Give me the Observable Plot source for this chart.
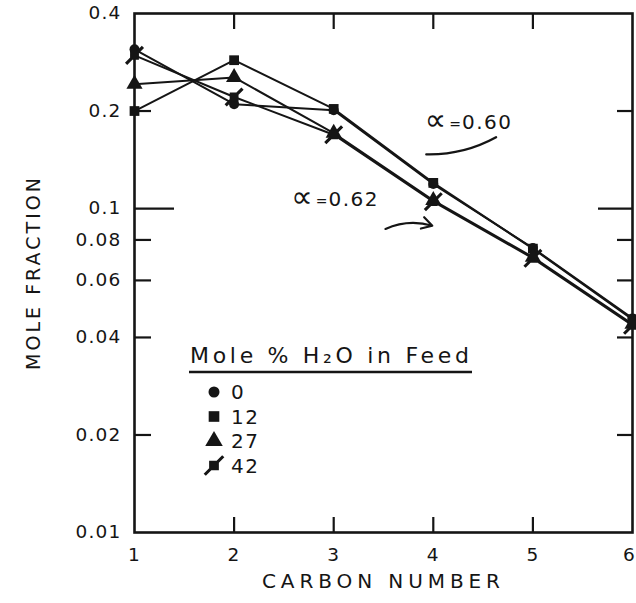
<!DOCTYPE html>
<html>
<head>
<meta charset="utf-8">
<script src="https://cdn.jsdelivr.net/npm/d3@7"></script>
<script src="https://cdn.jsdelivr.net/npm/@observablehq/plot@0.6"></script>
<style>
  body { margin: 0; background: #fff; }
  #chart { width: 636px; height: 603px; }
</style>
</head>
<body>
<div id="chart"></div>
<script>
// Data
const carbonNumber = [1, 2, 3, 4, 5, 6];
const feed0  = [0.310, 0.210, 0.201, 0.119, 0.0755, 0.0458];
const feed12 = [0.200, 0.287, 0.203, 0.120, 0.0752, 0.0455];
const feed27 = [0.242, 0.254, 0.171, 0.106, 0.0708, 0.0440];
const feed42 = [0.297, 0.221, 0.169, 0.105, 0.0702, 0.0436];
const seriesNames = ["0", "12", "27", "42"];
const yTickValues = [0.4, 0.2, 0.1, 0.08, 0.06, 0.04, 0.02, 0.01];
const xTickValues = [1, 2, 3, 4, 5, 6];
const legendTitle = "Mole % H\u2082O in Feed";
const annotationSymbol = "\u221D";
const annotationValues = ["0.60", "0.62"];

const seriesValues = [feed0, feed12, feed27, feed42];
const rows = seriesNames.flatMap((s, i) =>
  carbonNumber.map((c, j) => ({series: s, carbon: c, value: seriesValues[i][j]})));

// custom symbol: filled square with a diagonal slash
const slashSquare = {
  draw(ctx, size) {
    const s = Math.sqrt(size) / 2;
    ctx.moveTo(-s, -s); ctx.lineTo(s, -s); ctx.lineTo(s, s); ctx.lineTo(-s, s); ctx.closePath();
    const L = s * 1.9, w = 1.1;
    ctx.moveTo(-L - w, L - w); ctx.lineTo(L - w, -L - w); ctx.lineTo(L + w, -L + w); ctx.lineTo(-L + w, L + w); ctx.closePath();
  }
};
const symbols = {"0": "circle", "12": "square", "27": "triangle", "42": slashSquare};
const sizes = {"0": 5, "12": 5.5, "27": 6, "42": 5};

const ink = "#151515";
const font = "DejaVu Sans, sans-serif";

const svg = Plot.plot({
  width: 636,
  height: 603,
  marginLeft: 134,
  marginRight: 4,
  marginTop: 13,
  marginBottom: 71,
  style: {fontFamily: font, background: "#fff", color: ink, letterSpacing: "1.2px"},
  x: {domain: [1, 6]},
  y: {type: "log", domain: [0.01, 0.4]},
  marks: [
    // tick labels
    Plot.axisY(yTickValues, {anchor: "left", tickSize: 0, tickPadding: 13, fontSize: 18.5, tickFormat: d => String(d), label: null}),
    Plot.axisX(xTickValues, {anchor: "bottom", tickSize: 0, tickPadding: 15, fontSize: 18.5, tickFormat: d => String(d), label: null}),
    // inward ticks
    Plot.axisY([0.1], {anchor: "left", tickSize: -40, text: null, strokeWidth: 2.2, label: null}),
    Plot.axisY([0.2, 0.08, 0.06, 0.04, 0.02], {anchor: "left", tickSize: -17, text: null, strokeWidth: 2.2, label: null}),
    Plot.axisY([0.1], {anchor: "right", tickSize: -35, text: null, strokeWidth: 2.2, label: null}),
    Plot.axisY([0.2, 0.08, 0.06, 0.04, 0.02], {anchor: "right", tickSize: -16, text: null, strokeWidth: 2.2, label: null}),
    Plot.axisX([2, 3, 4, 5], {anchor: "bottom", tickSize: -15, text: null, strokeWidth: 2.2, label: null}),
    Plot.axisX([2, 3, 4, 5], {anchor: "top", tickSize: -15, text: null, strokeWidth: 2.2, label: null}),
    Plot.frame({stroke: ink, strokeWidth: 2.6}),
    // series lines
    Plot.line(rows, {x: "carbon", y: "value", z: "series", stroke: ink, strokeWidth: 2}),
    ...seriesNames.map(s => Plot.dot(rows.filter(d => d.series === s), {
      x: "carbon", y: "value", r: sizes[s], symbol: symbols[s], fill: ink, stroke: "none"
    })),
    // annotation pointers
    Plot.arrow([0], {x1: 3.93, y1: 0.147, x2: 4.63, y2: 0.166, bend: -15, stroke: ink, strokeWidth: 2.4, headLength: 0}),
    Plot.arrow([0], {x1: 3.52, y1: 0.0865, x2: 3.99, y2: 0.0885, bend: 20, stroke: ink, strokeWidth: 2.2, headLength: 8})
  ]
});

const xs = svg.scale("x"), ys = svg.scale("y");
const g = d3.select(svg).append("g").attr("fill", ink).attr("text-anchor", "start")
  .style("font-family", font).style("letter-spacing", "0px");

// nudge the last x tick label inside the picture
d3.select(svg).selectAll("text").filter(function() { return this.textContent === "6"; })
  .attr("dx", -3);

// axis titles
g.append("text").attr("transform", "translate(40,274) rotate(-90)")
  .attr("text-anchor", "middle").attr("font-size", 19)
  .attr("textLength", 192).attr("lengthAdjust", "spacing")
  .text("MOLE FRACTION");
g.append("text").attr("x", 381).attr("y", 588)
  .attr("text-anchor", "middle").attr("font-size", 20)
  .attr("textLength", 238).attr("lengthAdjust", "spacing")
  .text("CARBON NUMBER");

// annotations (placed with the plot's own scales)
const ann = [
  {value: annotationValues[0], x: 3.92, y: 0.184},
  {value: annotationValues[1], x: 2.58, y: 0.1065}
];
ann.forEach(a => {
  const t = g.append("text").attr("x", xs.apply(a.x)).attr("y", ys.apply(a.y) + 7).attr("font-size", 20);
  t.append("tspan").attr("font-size", 30).attr("dy", 1).text(annotationSymbol);
  t.append("tspan").attr("font-size", 14).attr("dx", 3).attr("dy", -1).text("=");
  t.append("tspan").attr("dx", 1).attr("letter-spacing", "1.5px").text(a.value);
});

// legend
g.append("text").attr("x", 190).attr("y", 363).attr("font-size", 22)
  .attr("textLength", 279).attr("lengthAdjust", "spacing").text(legendTitle);
g.append("line").attr("x1", 189).attr("x2", 472).attr("y1", 372).attr("y2", 372)
  .attr("stroke", ink).attr("stroke-width", 2.6);
seriesNames.forEach((s, i) => {
  const cy = 392 + i * 24.5;
  const sym = typeof symbols[s] === "string" ? {circle: d3.symbolCircle, square: d3.symbolSquare, triangle: d3.symbolTriangle}[symbols[s]] : symbols[s];
  const r = sizes[s] + 0.5;
  g.append("path").attr("transform", `translate(214,${cy})`)
    .attr("d", d3.symbol(sym, Math.PI * r * r)());
  g.append("text").attr("x", 231).attr("y", cy + 7).attr("font-size", 20)
    .attr("letter-spacing", "1.5px").text(s);
});

document.getElementById("chart").appendChild(svg);
</script>
</body>
</html>
